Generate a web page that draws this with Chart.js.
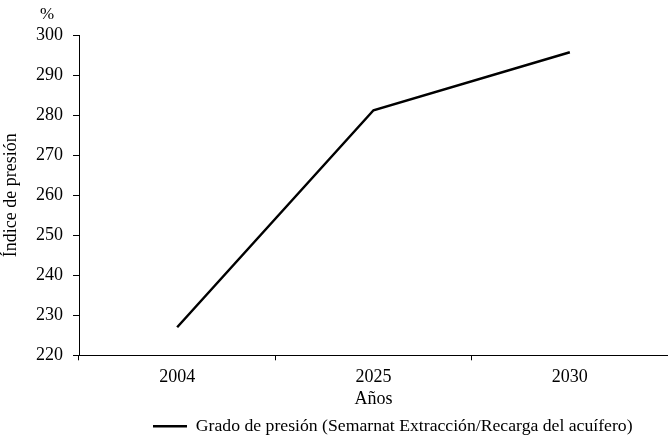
<!DOCTYPE html>
<html lang="es">
<head>
  <meta charset="UTF-8">
  <title>Grado de presión</title>
  <style>
    body { margin: 0; background: #fff; }
    #wrap { width: 668px; height: 438px; }
  </style>
  <script src="https://cdn.jsdelivr.net/npm/chart.js"></script>
</head>
<body>
  <div id="wrap"><canvas id="chart"></canvas></div>
  <script>
    const years = ['2004', '2025', '2030'];
    const presion = [227, 281.2, 295.7];
    const yMin = 220, yMax = 300, yStep = 10;

    const font = "'Liberation Serif', 'DejaVu Serif', serif";

    // "%" encima del eje Y
    const unitLabel = {
      id: 'unitLabel',
      afterDraw(chart) {
        const c = chart.ctx;
        c.save();
        c.font = '17px ' + font;
        c.fillStyle = '#000';
        c.textAlign = 'center';
        c.textBaseline = 'middle';
        c.fillText('%', chart.chartArea.left - 32, chart.chartArea.top - 20);
        c.restore();
      }
    };

    // leyenda corrida a la derecha y un poco más abajo, como en el original
    const legendShift = {
      id: 'legendShift',
      afterLayout(chart) {
        chart.legend.left = 153;
        chart.legend.top += 7;
      }
    };

    new Chart(document.getElementById('chart'), {
      type: 'line',
      data: {
        labels: years,
        datasets: [{
          label: 'Grado de presión (Semarnat Extracción/Recarga del acuífero)',
          data: presion,
          borderColor: '#000',
          backgroundColor: '#000',
          borderWidth: 2.5,
          pointRadius: 0,
          tension: 0,
          fill: false
        }]
      },
      options: {
        responsive: true,
        maintainAspectRatio: false,
        animation: false,
        layout: { padding: { top: 35, right: 0, left: 0, bottom: 0 } },
        plugins: {
          tooltip: { enabled: false },
          legend: {
            position: 'bottom',
            align: 'start',
            labels: {
              color: '#000',
              font: { family: font, size: 17.7 },
              boxWidth: 34,
              boxHeight: 0,
              padding: 0
            }
          }
        },
        scales: {
          x: {
            offset: true,
            border: { display: true, color: '#000', width: 1 },
            grid: { display: true, offset: true, drawOnChartArea: false, color: '#000', tickLength: 5 },
            ticks: { color: '#000', font: { family: font, size: 18 }, padding: 6 },
            title: { display: true, text: 'Años', color: '#000', font: { family: font, size: 18 }, padding: { top: 0, bottom: 0 } },
            afterFit(scale) { scale.height = 55; }
          },
          y: {
            min: yMin,
            max: yMax,
            border: { display: true, color: '#000', width: 1 },
            grid: { display: true, drawOnChartArea: false, color: '#000', tickLength: 6 },
            ticks: { stepSize: yStep, color: '#000', font: { family: font, size: 18 }, padding: 10 },
            title: { display: true, text: 'Índice de presión', color: '#000', font: { family: font, size: 18 }, padding: { top: 0, bottom: 4 } },
            afterFit(scale) { scale.width = 79; }
          }
        }
      },
      plugins: [unitLabel, legendShift]
    });
  </script>
</body>
</html>
